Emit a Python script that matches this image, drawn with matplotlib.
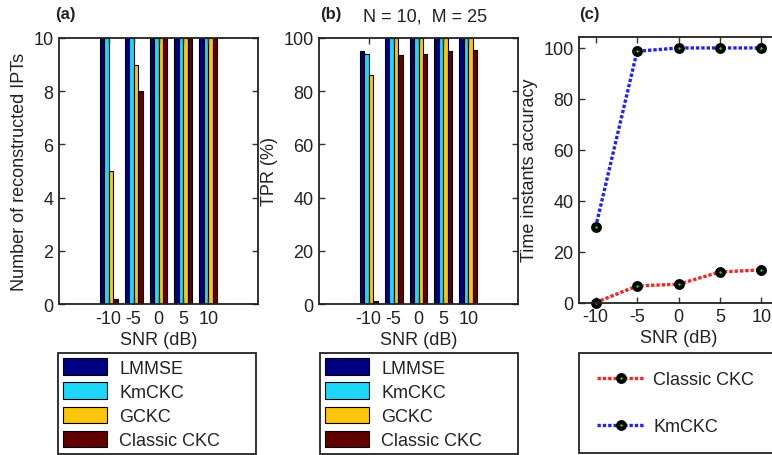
import matplotlib
matplotlib.use('Agg')
import matplotlib.pyplot as plt
import numpy as np

plt.rcParams['font.family'] = ['Liberation Sans', 'DejaVu Sans']
plt.rcParams['axes.unicode_minus'] = False

# values
snr = [-10, -5, 0, 5, 10]
methods = ['LMMSE', 'KmCKC', 'GCKC', 'Classic CKC']
bar_colors = ['#000080', '#1ed6f7', '#fcc40a', '#600000']

ipts_lmmse = [10, 10, 10, 10, 10]
ipts_kmckc = [10, 10, 10, 10, 10]
ipts_gckc = [5, 9, 10, 10, 10]
ipts_classic = [0.2, 8, 10, 10, 10]

tpr_lmmse = [95.3, 100, 100, 100, 100]
tpr_kmckc = [93.8, 100, 100, 100, 100]
tpr_gckc = [86, 100, 100, 100, 100]
tpr_classic = [1, 93.5, 94, 95, 95.6]

acc_classic = [0, 6.5, 7.2, 12, 12.8]
acc_kmckc = [29.5, 98.7, 100, 100, 100]

txt = '#222222'
fs = 13

fig = plt.figure(figsize=(7.72, 4.56), dpi=100)
w, h = 199 / 772, 266 / 456
bot = 1 - 305 / 456
ax_a = fig.add_axes([59 / 772, bot, w, h])
ax_b = fig.add_axes([319 / 772, bot, w, h])
ax_c = fig.add_axes([579 / 772, bot + 1.5 / 456, w, h])


def style(ax):
    ax.tick_params(direction='in', top=True, right=True, length=4, width=1,
                   labelsize=fs, colors='#333333', labelcolor=txt, pad=4)
    for s in ax.spines.values():
        s.set_linewidth(1.3)
        s.set_color('#222222')


def bars(ax, series, ymax, yticks, ylabel):
    bw = 0.9
    x = np.array(snr, dtype=float)
    for i, vals in enumerate(series):
        ax.bar(x + (i - 1.5) * bw, vals, width=bw, color=bar_colors[i],
               edgecolor='black', linewidth=0.8, label=methods[i])
    ax.set_xlim(-20, 20)
    ax.set_ylim(0, ymax)
    ax.set_xticks(snr)
    ax.set_yticks(yticks)
    ax.set_xlabel('SNR (dB)', fontsize=fs, color=txt, labelpad=3)
    ax.set_ylabel(ylabel, fontsize=fs, color=txt, labelpad=4)
    style(ax)


bars(ax_a, [ipts_lmmse, ipts_kmckc, ipts_gckc, ipts_classic], 10,
     [0, 2, 4, 6, 8, 10], 'Number of reconstructed IPTs')
bars(ax_b, [tpr_lmmse, tpr_kmckc, tpr_gckc, tpr_classic], 100,
     [0, 20, 40, 60, 80, 100], 'TPR (%)')

mk = dict(marker='o', ms=4.8, mfc='#00ff00', mec='black', mew=3)
ax_c.plot(snr, acc_classic, color='#ff2020', lw=2.4, dashes=(1, 0.6),
          label='Classic CKC', **mk)
ax_c.plot(snr, acc_kmckc, color='#2020ff', lw=2.4, dashes=(1, 0.6),
          label='KmCKC', **mk)
ax_c.set_xlim(-12, 12)
ax_c.set_ylim(0, 104.5)
ax_c.set_xticks(snr)
ax_c.set_yticks([0, 20, 40, 60, 80, 100])
ax_c.set_xlabel('SNR (dB)', fontsize=fs, color=txt, labelpad=3)
ax_c.set_ylabel('Time instants accuracy', fontsize=fs, color=txt, labelpad=4)
style(ax_c)
for l in ax_c.lines:
    l.set_clip_on(False)

# legends below the panels
for ax, x0 in [(ax_a, 58), (ax_b, 320)]:
    leg = fig.legend(*ax.get_legend_handles_labels(), loc='upper left',
                     bbox_to_anchor=(x0 / 772, 1 - 354 / 456, 198 / 772, 0),
                     mode='expand', fontsize=fs, fancybox=False,
                     framealpha=1, edgecolor='#222222', handlelength=2.4,
                     handleheight=1.0, labelspacing=0.32, borderpad=0.3,
                     handletextpad=0.7, borderaxespad=0)
    leg.get_frame().set_linewidth(1.3)
    for t in leg.get_texts():
        t.set_color(txt)

leg = fig.legend(*ax_c.get_legend_handles_labels(), loc='upper left',
                 bbox_to_anchor=(579 / 772, 1 - 354 / 456, 199 / 772, 0),
                 mode='expand', fontsize=fs, fancybox=False, framealpha=1,
                 edgecolor='#222222', handlelength=2.6, labelspacing=1.68,
                 borderpad=1.0, handletextpad=0.5, borderaxespad=0)
leg.get_frame().set_linewidth(1.3)
for t in leg.get_texts():
    t.set_color(txt)

fig.text(55 / 772, 1 - 15 / 456, '(a)', fontsize=12, fontweight='bold',
         color=txt, va='center')
fig.text(320 / 772, 1 - 15 / 456, '(b)', fontsize=12, fontweight='bold',
         color=txt, va='center')
fig.text(579 / 772, 1 - 15 / 456, '(c)', fontsize=12, fontweight='bold',
         color=txt, va='center')
fig.text(425 / 772, 1 - 17 / 456, 'N = 10,  M = 25', fontsize=fs,
         color=txt, ha='center', va='center')

fig.savefig('out.png', dpi=100)
